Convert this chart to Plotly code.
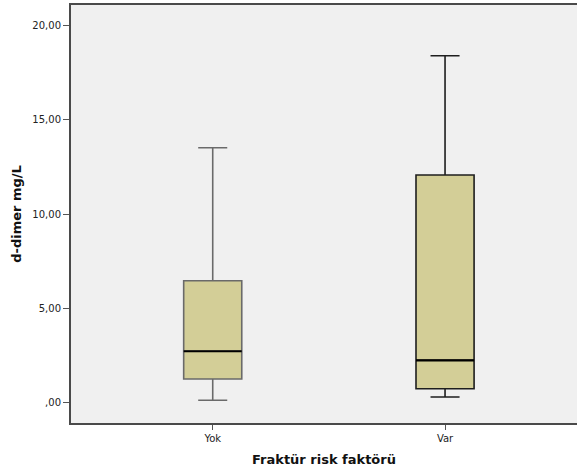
import plotly.graph_objects as go

# Box-plot summary statistics for d-dimer (mg/L) by fracture risk factor
categories = ["Yok", "Var"]
lower_whisker = [0.13, 0.30]
q1_values = [1.26, 0.74]
medians = [2.73, 2.25]
q3_values = [6.47, 12.08]
upper_whisker = [13.53, 18.41]

y_tickvals = [0, 5, 10, 15, 20]
y_ticktext = [",00", "5,00", "10,00", "15,00", "20,00"]

outline_colors = ["#6a6a6a", "#1e1e1e"]
fill_color = "#d3ce97"
box_width = 0.25

fig = go.Figure()
for i, cat in enumerate(categories):
    fig.add_trace(go.Box(
        x=[i],
        q1=[q1_values[i]],
        median=[medians[i]],
        q3=[q3_values[i]],
        lowerfence=[lower_whisker[i]],
        upperfence=[upper_whisker[i]],
        width=box_width,
        whiskerwidth=0.5,
        fillcolor=fill_color,
        line=dict(color=outline_colors[i], width=1.6),
        boxpoints=False,
        hoverinfo="skip",
        showlegend=False,
    ))
    # bold black median line
    fig.add_shape(
        type="line", xref="x", yref="y",
        x0=i - box_width / 2, x1=i + box_width / 2,
        y0=medians[i], y1=medians[i],
        line=dict(color="#000000", width=2.2),
    )

fig.update_layout(
    width=577, height=474,
    margin=dict(l=71, r=0, t=5, b=51),
    paper_bgcolor="#ffffff",
    plot_bgcolor="#f0f0f0",
    font=dict(family="DejaVu Sans", color="#222222"),
    xaxis=dict(
        range=[-0.61, 1.568],
        tickvals=list(range(len(categories))),
        ticktext=categories,
        ticks="outside", ticklen=5, tickcolor="#555555", tickwidth=1.2,
        tickfont=dict(size=10, color="#222222"),
        showline=True, linecolor="#4a4a4a", linewidth=2, mirror=True,
        showgrid=False, zeroline=False,
        title=dict(text="<b>Fraktür risk faktörü</b>", font=dict(size=13, color="#111111"), standoff=12),
    ),
    yaxis=dict(
        range=[-1.077, 21.10],
        tickvals=y_tickvals,
        ticktext=y_ticktext,
        ticks="outside", ticklen=6, tickcolor="#555555", tickwidth=1.2,
        tickfont=dict(size=10, color="#222222"),
        showline=True, linecolor="#4a4a4a", linewidth=2,
        showgrid=False, zeroline=False,
        title=dict(text="<b>d-dimer mg/L</b>", font=dict(size=13, color="#111111"), standoff=8),
    ),
)

fig.write_html("out.html")
